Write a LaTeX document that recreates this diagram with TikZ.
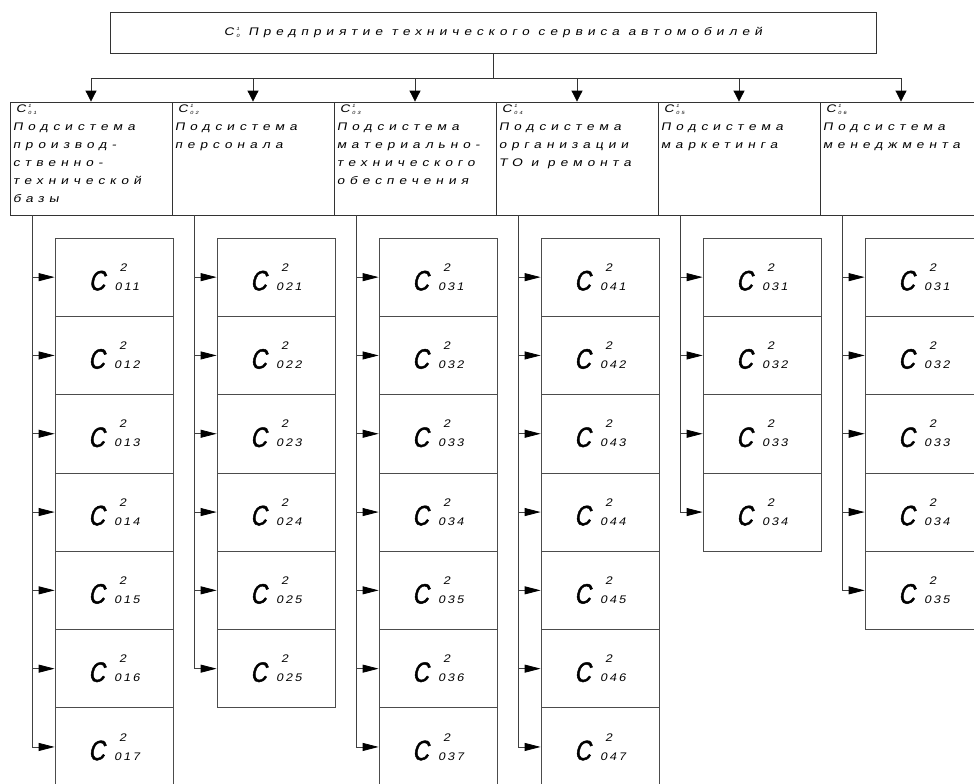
\documentclass[tikz,border=0pt]{standalone}
\usepackage{fontspec}
\usepackage{graphicx}
\usetikzlibrary{arrows.meta}
\newfontfamily\gost[LetterSpace=45, FakeStretch=1.25, FakeSlant=0.2]{Liberation Sans}
\newfontfamily\gostdig[LetterSpace=20, FakeStretch=1.15, FakeSlant=0.2]{Liberation Sans}
\newfontfamily\gostbig[FakeStretch=0.8, FakeSlant=0.2, FakeBold=1.5]{Liberation Sans}

% small system label: C with upper and lower index
\newcommand{\sysl}[2]{C\hspace{2.5pt}\rlap{\raisebox{5pt}{\fontsize{4.5}{4.5}\selectfont #1}}\raisebox{-1.8pt}{\fontsize{4.5}{4.5}\selectfont #2}}
% big element label
\newcommand{\elem}[2]{{\gostbig\fontsize{28}{28}\selectfont C}\hspace{9.5pt}\shortstack[l]{\hspace{5pt}#1\\\rule{0pt}{16pt}#2}}

\tikzset{
  sysbox/.style={draw=black!80, line width=0.8pt, minimum width=766pt, minimum height=41pt, font=\gost\fontsize{11}{13}\selectfont},
  subbox/.style={draw=black!80, line width=0.8pt, minimum width=162pt, minimum height=113pt},
  subtext/.style={anchor=north west, inner sep=3pt, align=left, font=\gost\fontsize{11}{18}\selectfont},
  elembox/.style={draw=black!70, line width=0.8pt, minimum width=118pt, minimum height=78.3pt, font=\gostdig\fontsize{11}{11}\selectfont},
  downarrow/.style={-{Triangle[length=11pt,width=11pt,black]}, line width=0.8pt, draw=black!80},
  sidearrow/.style={-{Triangle[length=16pt,width=8pt,black]}, line width=0.8pt, draw=black!75},
}

\begin{document}
\begin{tikzpicture}[x=1pt,y=-1pt]
  \useasboundingbox (0,0) rectangle (974,784);
  \clip (0,0) rectangle (974,784);

  \node[sysbox] (sys) at (493,32.5) {\sysl{1}{0} Предприятие технического сервиса автомобилей};

  % subsystems
  \node[subbox] (s1) at (91,158.5) {};
  \node[subbox] (s2) at (253,158.5) {};
  \node[subbox] (s3) at (415,158.5) {};
  \node[subbox] (s4) at (577,158.5) {};
  \node[subbox] (s5) at (739,158.5) {};
  \node[subbox] (s6) at (901,158.5) {};

  \node[subtext] (t1) at (s1.north west) {\hspace{3pt}\sysl{1}{01}\\Подсистема\\производ-\\ственно-\\технической\\базы};
  \node[subtext] (t2) at (s2.north west) {\hspace{3pt}\sysl{1}{02}\\Подсистема\\персонала};
  \node[subtext] (t3) at (s3.north west) {\hspace{3pt}\sysl{1}{03}\\Подсистема\\материально-\\технического\\обеспечения};
  \node[subtext] (t4) at (s4.north west) {\hspace{3pt}\sysl{1}{04}\\Подсистема\\организации\\ТО и ремонта};
  \node[subtext] (t5) at (s5.north west) {\hspace{3pt}\sysl{1}{05}\\Подсистема\\маркетинга};
  \node[subtext] (t6) at (s6.north west) {\hspace{3pt}\sysl{1}{06}\\Подсистема\\менеджмента};

  \draw[line width=0.8pt, black!80] (sys.south) -- ++(0,25) coordinate (bus);
  \draw[line width=0.8pt, black!80] (bus -| s1.north) -- (bus -| s6.north);
  \foreach \i in {1,...,6}
    \draw[downarrow] (bus -| s\i.north) -- (s\i.north);

  % elements
  \foreach \col/\labs in {1/{011,012,013,014,015,016,017},
                          2/{021,022,023,024,025,025},
                          3/{031,032,033,034,035,036,037},
                          4/{041,042,043,044,045,046,047},
                          5/{031,032,033,034},
                          6/{031,032,033,034,035}} {
    \coordinate (sp\col) at (32+162*\col-162,215);
    \foreach \lab [count=\row] in \labs {
      \node[elembox] (e\col\row) at (114+162*\col-162,277.15+78.3*\row-78.3) {\elem{2}{\lab}};
      \draw[sidearrow] (sp\col) |- (e\col\row.west);
    }
  }
\end{tikzpicture}
\end{document}
